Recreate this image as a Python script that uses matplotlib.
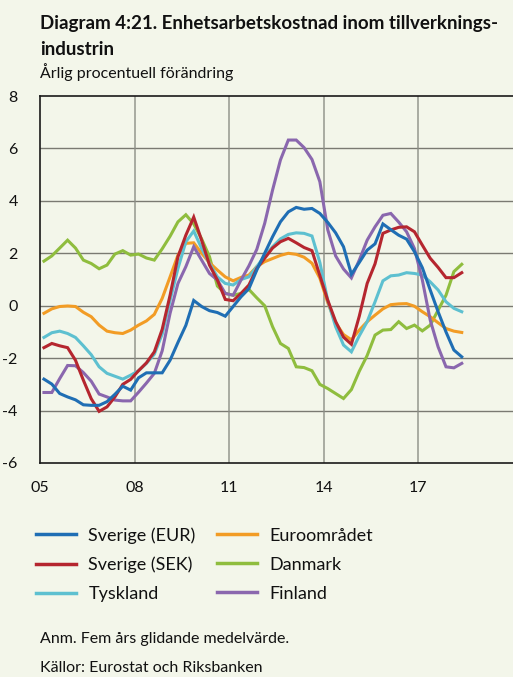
import matplotlib
matplotlib.use("Agg")
import matplotlib.pyplot as plt
import numpy as np

plt.rcParams['font.family'] = ['Lato', 'DejaVu Sans']
plt.rcParams['axes.unicode_minus'] = False

# Quarterly data 2005Q1 - 2018Q2 (five-year moving average, annual % change)
start_year = 2005
n_quarters = 54

sverige_eur = [-2.80, -2.99, -3.35, -3.48, -3.59, -3.78, -3.80, -3.80, -3.66, -3.38,
               -3.07, -3.22, -2.75, -2.56, -2.56, -2.56, -2.08, -1.40, -0.75, 0.20,
               -0.03, -0.19, -0.26, -0.40, -0.03, 0.34, 0.65, 1.36, 2.00, 2.63,
               3.20, 3.58, 3.75, 3.68, 3.71, 3.52, 3.18, 2.78, 2.25, 1.20,
               1.65, 2.12, 2.36, 3.12, 2.90, 2.69, 2.54, 2.06, 1.45, 0.60,
               -0.23, -1.00, -1.69, -1.95]
sverige_sek = [-1.60, -1.44, -1.53, -1.60, -2.08, -2.84, -3.55, -4.03, -3.86, -3.48,
               -3.00, -2.81, -2.48, -2.18, -1.76, -0.90, 0.40, 1.87, 2.69, 3.38,
               2.50, 1.55, 0.98, 0.24, 0.19, 0.47, 0.79, 1.42, 1.81, 2.20,
               2.44, 2.57, 2.40, 2.22, 2.10, 1.15, 0.21, -0.60, -1.20, -1.47,
               -0.40, 0.85, 1.60, 2.76, 2.89, 2.99, 3.01, 2.82, 2.31, 1.81,
               1.46, 1.07, 1.07, 1.26]
tyskland = [-1.21, -1.03, -0.97, -1.06, -1.21, -1.53, -1.87, -2.33, -2.58, -2.69,
            -2.80, -2.65, -2.48, -2.20, -1.85, -1.08, 0.21, 1.42, 2.44, 2.85,
            2.19, 1.61, 1.10, 0.85, 0.79, 1.00, 1.10, 1.49, 1.90, 2.25,
            2.55, 2.72, 2.78, 2.76, 2.66, 1.65, 0.20, -0.80, -1.50, -1.76,
            -1.15, -0.61, 0.15, 0.95, 1.14, 1.17, 1.26, 1.23, 1.17, 0.91,
            0.60, 0.15, -0.10, -0.23]
euroomradet = [-0.29, -0.12, -0.03, -0.01, -0.03, -0.25, -0.42, -0.74, -0.97, -1.03,
               -1.06, -0.93, -0.74, -0.58, -0.33, 0.28, 1.10, 1.93, 2.38, 2.40,
               2.00, 1.64, 1.36, 1.10, 0.95, 1.08, 1.17, 1.49, 1.68, 1.80,
               1.92, 2.00, 1.96, 1.85, 1.62, 1.05, 0.12, -0.65, -1.10, -1.30,
               -0.93, -0.61, -0.36, -0.12, 0.04, 0.07, 0.08, -0.02, -0.23, -0.42,
               -0.65, -0.87, -0.97, -1.02]
danmark = [1.70, 1.90, 2.20, 2.50, 2.20, 1.74, 1.61, 1.41, 1.55, 1.97,
           2.10, 1.93, 1.97, 1.82, 1.74, 2.17, 2.65, 3.20, 3.47, 3.12,
           2.55, 1.87, 0.75, 0.47, 0.40, 0.47, 0.62, 0.30, 0.00, -0.80,
           -1.44, -1.63, -2.33, -2.36, -2.48, -3.00, -3.16, -3.35, -3.54, -3.20,
           -2.50, -1.90, -1.12, -0.93, -0.91, -0.61, -0.87, -0.74, -0.96, -0.74,
           -0.17, 0.40, 1.30, 1.58]
finland = [-3.31, -3.31, -2.78, -2.28, -2.29, -2.55, -2.88, -3.37, -3.48, -3.60,
           -3.63, -3.63, -3.30, -2.95, -2.58, -1.72, -0.29, 0.85, 1.49, 2.25,
           1.74, 1.23, 0.98, 0.47, 0.40, 0.98, 1.52, 2.15, 3.14, 4.41,
           5.56, 6.32, 6.32, 6.03, 5.58, 4.73, 2.90, 1.90, 1.40, 1.06,
           1.74, 2.50, 3.01, 3.45, 3.52, 3.19, 2.82, 2.18, 0.98, -0.55,
           -1.57, -2.33, -2.37, -2.20]

series_labels = ["Sverige (EUR)", "Sverige (SEK)", "Tyskland",
                 "Euroområdet", "Danmark", "Finland"]
series_colors = ["#1f6eb4", "#b5262f", "#5dc0d0", "#f29c25", "#8fbd3e", "#8a67ae"]

x_ticks = [2005, 2008, 2011, 2014, 2017]
x_ticklabels = ["05", "08", "11", "14", "17"]
y_ticks = [-6, -4, -2, 0, 2, 4, 6, 8]

title_line1 = "Diagram 4:21. Enhetsarbetskostnad inom tillverknings-"
title_line2 = "industrin"
subtitle = "Årlig procentuell förändring"
note = "Anm. Fem års glidande medelvärde."
source = "Källor: Eurostat och Riksbanken"

bg = "#f3f6ea"
W, H = 513, 677
fig = plt.figure(figsize=(W / 100, H / 100), dpi=100, facecolor=bg)

ax = fig.add_axes([40 / W, 1 - 463 / H, (513 - 40) / W, (463 - 96) / H])
ax.set_facecolor(bg)

t = start_year + 0.125 + 0.25 * np.arange(n_quarters)
all_series = [sverige_eur, sverige_sek, tyskland, euroomradet, danmark, finland]
zorders = [7, 6, 4, 3, 2, 5]
handles = []
for vals, lab, col, z in zip(all_series, series_labels, series_colors, zorders):
    h, = ax.plot(t, vals, color=col, lw=2.2, label=lab, zorder=z,
                 solid_joinstyle='miter')
    handles.append(h)

ax.set_xlim(2005, 2020)
ax.set_ylim(-6, 8)
ax.set_xticks(x_ticks)
ax.set_xticklabels(x_ticklabels)
ax.set_yticks(y_ticks)
ax.tick_params(length=0, labelsize=11.5, colors="#111111")
ax.tick_params(axis='y', pad=16)
ax.tick_params(axis='x', pad=13)
for lbl in ax.get_yticklabels():
    lbl.set_horizontalalignment('right')

for yv in [-4, -2, 0, 2, 4, 6]:
    ax.axhline(yv, color="#7a7a72", lw=1.0, zorder=1)
for xv in [2008, 2011, 2014, 2017]:
    ax.axvline(xv, color="#8c8f86", lw=1.2, alpha=0.85, zorder=1)

for s in ['left', 'top', 'bottom']:
    ax.spines[s].set_color("#1a1a1a")
    ax.spines[s].set_linewidth(1.2)
ax.spines['right'].set_visible(False)

fig.text(40 / W, 1 - 29 / H, title_line1, fontsize=13.5, fontweight='bold',
         va='baseline', ha='left', color="#111111")
fig.text(40 / W, 1 - 55 / H, title_line2, fontsize=13.5, fontweight='bold',
         va='baseline', ha='left', color="#111111")
fig.text(40 / W, 1 - 78 / H, subtitle, fontsize=11.5, va='baseline', ha='left',
         color="#111111")

leg = fig.legend(handles=handles, labels=series_labels, ncol=2,
                 loc='upper left', bbox_to_anchor=(36 / W, 1 - 527 / H),
                 frameon=False, fontsize=13, handlelength=2.2,
                 handletextpad=0.7, columnspacing=1.2, labelspacing=0.72,
                 borderaxespad=0, borderpad=0)
for lh in leg.get_lines():
    lh.set_linewidth(2.5)
for txt in leg.get_texts():
    txt.set_color("#111111")

fig.text(40 / W, 1 - 643 / H, note, fontsize=11.5, va='baseline', ha='left',
         color="#111111")
fig.text(40 / W, 1 - 672 / H, source, fontsize=11.5, va='baseline', ha='left',
         color="#111111")

fig.savefig("out.png", dpi=100, facecolor=bg)
